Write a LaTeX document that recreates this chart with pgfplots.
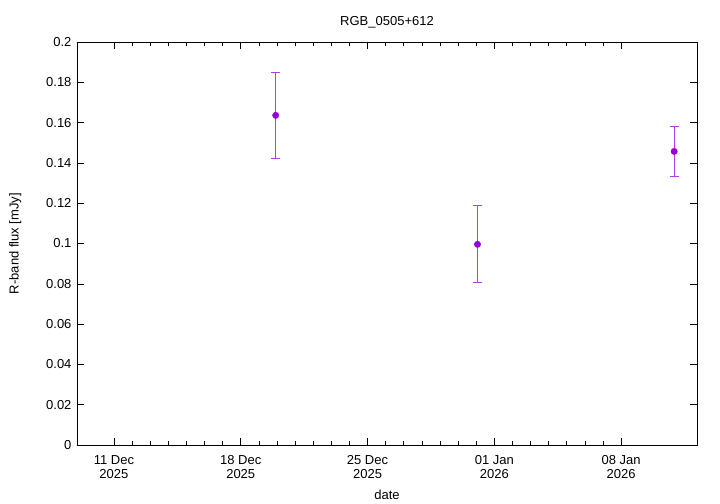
\documentclass[border=0pt]{standalone}
\usepackage{fontspec}
\setmainfont{Liberation Sans}
\usepackage{pgfplots}
\pgfplotsset{compat=1.18}
\definecolor{dviolet}{HTML}{9400D3}
\definecolor{lviolet}{HTML}{B040E8}
\begin{document}
\fontsize{13bp}{15bp}\selectfont
\begin{tikzpicture}
\path[use as bounding box] (-77bp,-59bp) rectangle (643bp,445bp);
\begin{axis}[name=ax, at={(0,0)}, anchor=south west,
  scale only axis, width=620bp, height=403bp,
  xmin=-2.04, xmax=32.19, ymin=0, ymax=0.2,
  xtick={0,7,14,21,28},
  xticklabels={{11 Dec\\2025},{18 Dec\\2025},{25 Dec\\2025},{01 Jan\\2026},{08 Jan\\2026}},
  xticklabel style={align=center, font=\fontsize{13bp}{14bp}\selectfont, yshift=-6bp},
  yticklabel style={font=\fontsize{13bp}{14bp}\selectfont, xshift=-1bp},
  minor x tick num=6,
  ytick={0,0.02,0.04,0.06,0.08,0.1,0.12,0.14,0.16,0.18,0.2},
  /pgf/number format/assume math mode=true,
  yticklabel style={/pgf/number format/fixed, /pgf/number format/precision=2},
  scaled y ticks=false,
  tick align=inside,
  major tick length=7bp, minor tick length=4bp,
  axis line style={line width=0.9pt},
  tick style={black, line width=0.6pt},
  title={RGB\_0505+612},
  title style={font=\fontsize{13bp}{14bp}\selectfont, yshift=3bp},
  xlabel={date}, ylabel={R-band flux [mJy]},
  xlabel style={font=\fontsize{13bp}{14bp}\selectfont, yshift=-2bp},
  ylabel style={font=\fontsize{13bp}{14bp}\selectfont, yshift=16bp},
  clip=false,
]
\addplot[only marks, mark=*, mark size=3.2bp, color=dviolet,
  error bars/.cd, y dir=both, y explicit,
  error bar style={lviolet, line width=0.7pt},
  error mark options={rotate=90, lviolet, mark size=4.5bp, line width=0.7pt}]
  coordinates {
  (8.93,0.1636) +- (0,0.0211)
  (20.07,0.0996) +- (0,0.0191)
  (30.93,0.1457) +- (0,0.0122)
  };
\end{axis}
\end{tikzpicture}
\end{document}
